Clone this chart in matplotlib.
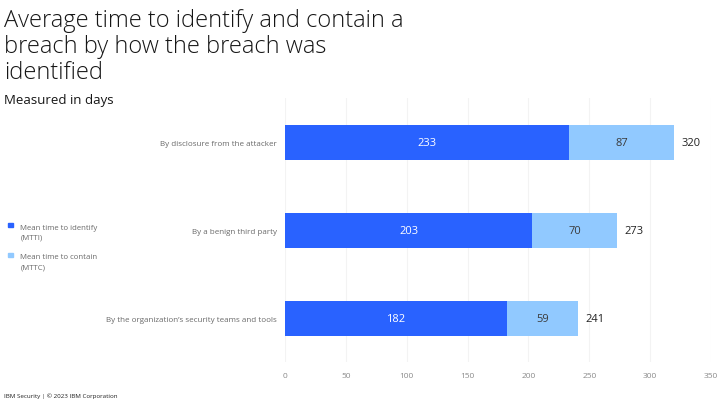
import matplotlib
matplotlib.use("Agg")
import matplotlib.pyplot as plt
import numpy as np

plt.rcParams['font.family'] = ['Open Sans', 'DejaVu Sans']

categories = ["By disclosure from the attacker",
              "By a benign third party",
              "By the organization\u2019s security teams and tools"]
mtti = [233, 203, 182]
mttc = [87, 70, 59]
totals = [320, 273, 241]
xticks = [0, 50, 100, 150, 200, 250, 300, 350]

dark = "#2962ff"
light = "#91c9ff"

fig = plt.figure(figsize=(7.28, 4.06), dpi=100)
ax = fig.add_axes([0.3915, 0.1047, 0.5851, 0.6503])

y = np.arange(len(categories))
ax.barh(y, mtti, height=0.4, color=dark, zorder=3)
ax.barh(y, mttc, left=mtti, height=0.4, color=light, zorder=3)

for i in range(len(categories)):
    ax.text(mtti[i] / 2, y[i], str(mtti[i]), ha='center', va='center',
            color='white', fontsize=8, zorder=4)
    ax.text(mtti[i] + mttc[i] / 2, y[i], str(mttc[i]), ha='center', va='center',
            color='#3a3a3a', fontsize=8, zorder=4)
    ax.text(totals[i] + 6, y[i], str(totals[i]), ha='left', va='center',
            color='#222222', fontsize=8, zorder=4)

ax.set_xlim(0, 350)
ax.set_ylim(2.5, -0.5)
ax.set_xticks(xticks)
ax.set_xticklabels([str(t) for t in xticks], fontsize=6, color='#8a8a8a')
ax.set_yticks(y)
ax.set_yticklabels(categories, fontsize=5.8, color='#6a6a6a')
ax.tick_params(axis='y', length=0, pad=6)
ax.tick_params(axis='x', length=0, pad=7)
ax.grid(axis='x', color='#f3f3f3', linewidth=0.8, zorder=0)
for s in ax.spines.values():
    s.set_visible(False)

fig.text(0.006, 0.977, "Average time to identify and contain a\nbreach by how the breach was\nidentified",
         fontsize=17, color='#161616', va='top', ha='left', linespacing=1.1,
         fontweight='light')
fig.text(0.006, 0.752, "Measured in days", fontsize=9.5, color='#161616', va='center', ha='left')

# legend
fig.patches.append(plt.Rectangle((0.011, 0.438), 0.0065, 0.0115, transform=fig.transFigure,
                                 color=dark, figure=fig))
fig.text(0.028, 0.447, "Mean time to identify\n(MTTI)", fontsize=5.6, color='#6a6a6a',
         va='top', ha='left', linespacing=1.6, transform=fig.transFigure)
fig.patches.append(plt.Rectangle((0.011, 0.364), 0.0065, 0.0115, transform=fig.transFigure,
                                 color=light, figure=fig))
fig.text(0.028, 0.374, "Mean time to contain\n(MTTC)", fontsize=5.6, color='#6a6a6a',
         va='top', ha='left', linespacing=1.6, transform=fig.transFigure)

fig.text(0.006, 0.024, "IBM Security | \u00a9 2023 IBM Corporation", fontsize=4.5,
         color='#222222', va='center', ha='left')

fig.savefig("out.png", dpi=100)
